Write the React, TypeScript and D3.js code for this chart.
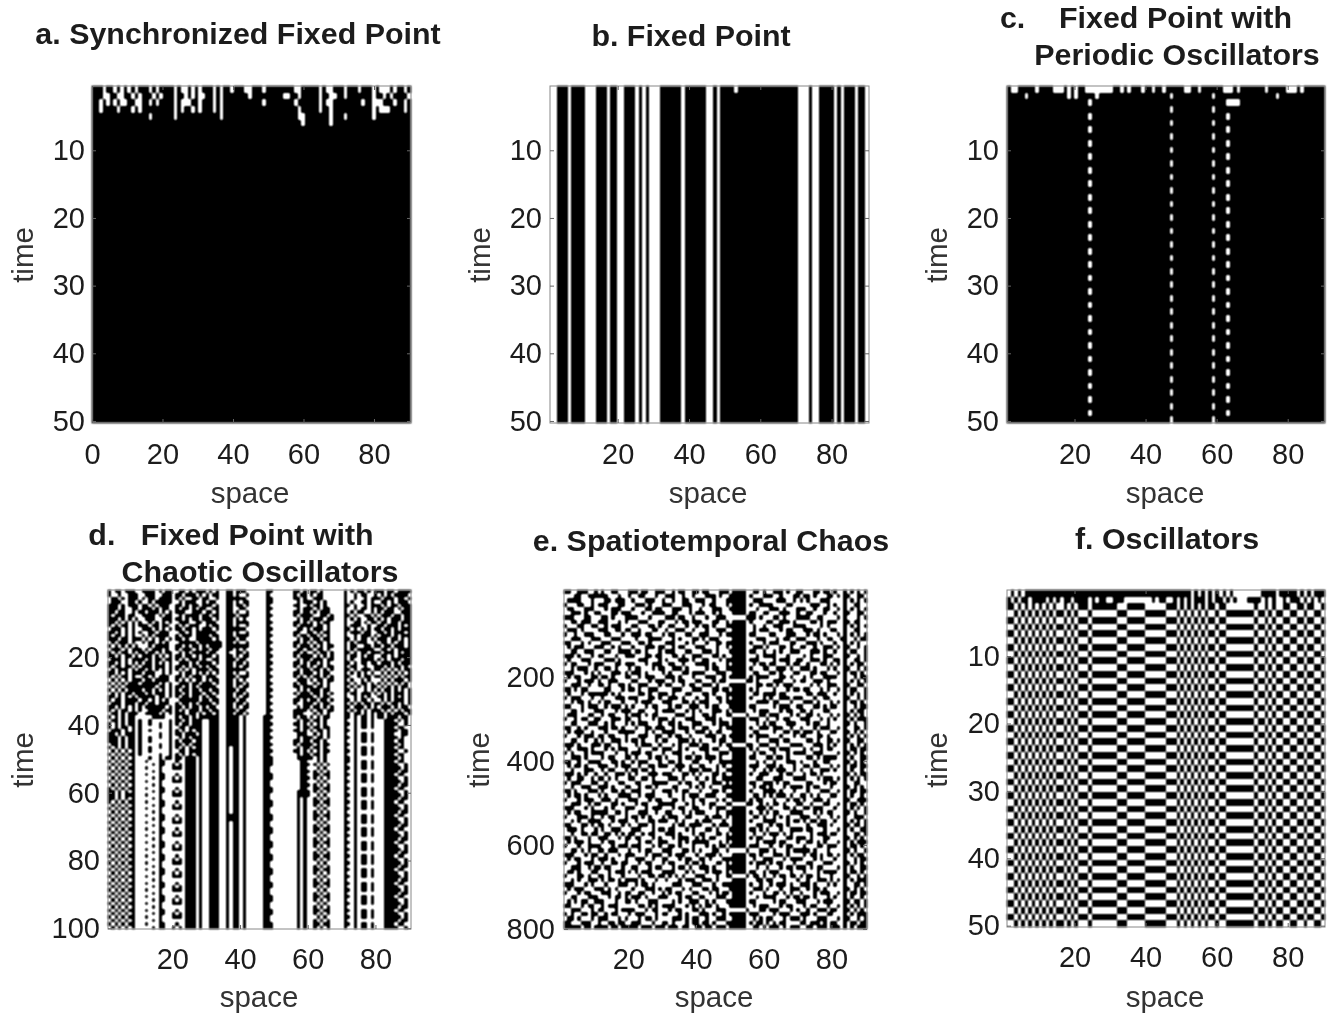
import React, { useEffect, useRef } from "react";
import * as d3 from "d3";

// '#' = black cell, '.' = white cell. Rows are grouped in tens of columns.
// All rows are read by eye off a blurred picture, so they are estimates;
// panel e is far too fine to read cell by cell and is held at 80 rows.
const blackRow = "########## ########## ########## ########## ########## ########## ########## ########## ##########";

const aTopRows = [
  "###.##.#.# .#.###.#.# ###.#..#.# .###.#.##. ###..###.# #######..# ####.#..## #.###.###. #...#.##.#",
  "###..##..# #.#.###.#. ###.##.#.# ..##.#.### ####.##### ####..##.# ####.##..# #.#######. ##.#.####.",
  "##.#.#.#.. ##..##.#.# ###.#...## .###.#.### ########.# #######.## ####.#..## ######.##. ..###.##.#",
  "##.####.## #.#.###### ###.#.##.# .###.#.### ########## ########.# ####.##.## #########. #...####.#",
  "########## ######.### ###.###### ######.### ########## ########.. #######.## #.#######. ##########",
  "########## ########## ########## ########## ########## #########. #######.## ########## ##########",
];

const bFirstRow = "..###.#### ...###.##. .###.#.#.. .######.## ####..#.## ##.####### ########## ...#..#### .#.###.##.";
const bRestRow = "..###.#### ...###.##. .###.#.#.. .######.## ####..#.## ########## ########## ...#..#### .#.###.##.";

const cTopRows = [
  "#..#####.# ###...#.#. ##........ ##.#.###.# #.##.##### ..##.##### #...#.#### ###.#####. ..#.######",
  "#####.#### #######.#. #####.#### ########## ######.### ########.# ########## ######.### ##########",
  "########## ########## ###.###### ########## ########## ########## ##....#### ########## ##########",
];
const cCycleA = "########## ########## ###.###### ########## ########## ########## ##.####### ########## ##########";
const cCycleB = "########## ########## ########## ########## ######.### ########.# ########## ########## ##########";
const cSequence = "BABABABABABABABABABABABABABABABABABABABABABABABAB";

const dRows = [
  "#.##.###.. ####.#.##. .##.#.###. #.#..##.## #......##. .....##.#. ##.#...... #.#.##.#.# ##.##.####",
  "#..#..###. .###..###. ##.###.#.# .##..##.#. .#.....#.. .....#.##. #.##...... #..#.##..# .#.#.####.",
  ".##.#.###. #.##.####. #.#..##.## ..#..##### #......##. .....##.#. .###...... #..#..#.## #.###.##.#",
  ".###..##.# ..#.#####. .#.###..#. ##...##.#. ##.....##. ......#.## #.#.#..... #.#..##.#. .##.#.###.",
  "###.#.###. ##.#.###.. ##.#.##.## #.#..##.## .#.....#.. .....##..# .##.#..... ##.#..#.## #.#.##.###",
  "###.#..##. ###.#.##.. #.##.#.##. .##..##..# #......##. ......#.## #.#.##.... #..#.##.#. ##.##.#.##",
  "##.##..#.# #.###.#.#. ###..###.# #.#..##.#. .#.....#.. .....##.## .#.###.... #.#.##..#. #.###..###",
  "#.###.##.. ####.#.##. .#.####.## .##..###.# ##.....##. .....#.### #..##.#... ##.#..##.# .###.##.##",
  "###.#.#.#. .###..###. ##.#.##.## #.#..##.#. #......#.. ......#.## .###.##... #.#.#..##. #.#.###.##",
  "##.#.#.#.# ..#.#.#.#. .###..##.# ##...##.## ##.....##. .....##.#. #.#.##.... #..##.#.## .##.##.###",
  "#.#.##.#.# ##.##.##.. #.#.###..# .##..##.#. .#.....#.. .....#.### #.##.#.... #.###..#.. ##.###.#.#",
  ".###.#.#.. ###.#.#.#. ##.##.#.## #.#..##### #......##. ......##.# .###.#.... ##.#.#.#.# #.##.#.###",
  "##.#.#.#.# ..##.###.. .##.#.#### ##...##.#. .#.....#.. .....##..# #.#.##.... #.###.##.. ##.#.###.#",
  "#.##.#.#.. #.#.####.. #.###.#### .##..##.## ##.....##. .....#.##. ##.#.#.... #..#.###.# .###.#.###",
  "###.##.### .#.#.##.#. ##.#..#### #.#..###.# #......#.. ......#.## .##.##.... ##.#.##.#. ###.##.#.#",
  ".#.###.#.. #.##.#.#.. .#####.### ####.##.#. .#.....##. .....##.#. #.##.#.... #.#.###..# .##.#.##.#",
  "#.#.#.#.#. ..#.####.. ##.#.##.#. ####.##### ##.....#.. .....#.### .#.#.##... #.##..##.# #.##.###.#",
  ".###.#.### .#.###.#.. #.###.#.## .##..##.#. #......##. ......##.# #.##.#.... #.#.#####. .##.#.####",
  "#.#.##.#.# #.##.#.##. .#.#.####. ##...#..## .#.....#.. .....##.#. .#.##.#... ##.#.##.## #.###.#.##",
  "##.#.##.#. ###.#.#.#. ##.##.#.## #.#..##.#. ##.....##. .....#.### #.#.#.#... #.##.#.##. .##.#.####",
  ".###.#.### #.#.##.##. #.#.###.#. .##..###.# #......#.. ......#.## .###.##... #.#..####. #.#.###.##",
  "##.#.#.#.# .##.#.#.#. .###.#.### #.#..##.## .#.....##. .....##.#. ##.#.#.... ##.#.##.## .###.#.###",
  "#.##.##.#. ###.###.#. ##.#.##.#. ##...##.#. ##.....#.. .....#.##. #.##.##... #.##..#..# ##.#.##.#.",
  ".#.###.#.# #.#.#.#.#. #.#.#.#### .##..##### #......##. ......#.## .##.#.#... ##.#.###.# #.#.#.#.##",
  "##.#.#.### .###..#.#. .#.##.#.#. #.#..##.#. .#.....#.. .....##.## #.#.##.... #.#.#.#.#. .#.#.#.#.#",
  "#.#.##.#.. ##.#.###.. ##.#.###.# ##...###.# ##.....##. .....#.#.# .##.#.#... ##..#.##.# #.#.#.#.##",
  ".#.#.#.### .##.####.. #.#.#.##.# .##..##.#. #......#.. ......###. #.##.##... #.#..#.#.. .#.#.###.#",
  "#.#.#.###. #####.#.#. .###.##.## #.#..##.## .#.....##. .....#.##. .#.#.#.... ##.#.##.#. #.#.#.#.#.",
  ".#.#.##### ####.##.#. ##.#.#.### ##...##.#. ##.....#.. .....##.## #.##.#.... #.#.#.#.## .#.#.#.##.",
  "#.#.#.#### .##.#.#.#. #.##.##.## .##..###.# #......##. ......#.#. ###.##.... ##.#..#.#. #.##.#.#.#",
  ".#.#.##.## #.#.###.#. ##.#.###.# #.#..##.## .#.....#.. .....#.### .##.#.#... #.##.###.# .#.#.###.#",
  "##.#.#.#.# ####.##.#. #.##.##.#. ##...##.#. ##.....##. ......#### #.#.##.... #..#.#.#.. ##.#.#.#.#",
  "#.##.####. ##.#.#.#.. .######.## .##..###.# #......#.. .....##.#. ##.##.#... ##.#.##.#. .#.#.###.#",
  ".###.###.# #.##.###.. #.##.#.### #.#..##.## .#.....##. .....#..## #.#.##.... #.#.#.##.# #.#.##.#.#",
  "##.#.#.#.# .######.#. ##.#.##.#. ##...##.#. ##.....#.. ......#.## .##.#.#... ##.###.#.# .###.#.##.",
  "#.#.##.#.# ..####.##. #.#.###.## .##..###.# #......##. .....####. #.##.##... #.#.#.#.## #.#.#.#.##",
  ".##.#.###. .####.#.#. ###.##.#.# #.#..##.## .#.....#.. .....###.. .#.#.#.... ##.##.#.#. ##.#.###.#",
  "#.#.#.##.. ...####... #.##.#.### ###..####. #.....###. .....#.##. #.#.##.... ##.#.##.#. ##.###.##.",
  ".##.#.##.# ..#.....#. ##.#.###.. ###..####. #.....##.. ......#.## .##.#..... #..#.##.#. ..###.#.#.",
  "#.#.#.##.# ..#..#..#. #.##.###.. ###..####. #.....###. .....##.#. #.#.#..... ##.#.##.#. ..####..#.",
  "#.#.##.#.# .....#..#. .##.####.. ###..####. #.....##.. ......#.## .##.##.... #..#.##.#. ..###.##..",
  ".###.#.#.# ..#.....#. #.#.#.##.. ###..####. #.....###. .....##.#. #.##.#.... ##.#...... ..####.##.",
  "##.#.###.# .....#..#. ##.###.#.. ###..####. #.....##.. ......###. .#.#.#.... #..#.##.#. ..###..##.",
  "###.#.##.# ..#..#..#. .#.#.###.. ###..####. #.....###. ......#.## #.##.#.... ##.#.##.#. ..####.#..",
  "###.#.##.# ..#.....#. #.###.##.. ###..####. #.....##.. .....##.## .##.#..... #..#.##.#. ..###.##..",
  ".##.#.##.# .....#..#. ##.#.###.. ###..####. #.....###. .....#.### #.#.##.... ##.#...... ..####.#..",
  "#.#.#.##.# ..#..#..#. #.#.#.##.. ###..#.##. #.....##.. ......#.## .##.#..... #..#.##.#. ..###.##..",
  ".#.#.#.#.# ..#.....#. .##.####.. ###..#.##. #.....###. .....##.#. #.#.##.... ##.#.##.#. ..####..#.",
  "#.#.#.##.# .....#..#. #.#.#.##.. ###..#.##. #.....##.. ......#.## .##.#..... #..#.##.#. ..###.##..",
  ".#.#.#.#.. ..#..#.##. ##.###.#.. ###..#.##. #.....###. ......#### #.#.#..... ##.#...... ..####.#..",
  "#.#.#.##.. .#...##... #..###.#.. ###..#.##. #.....###. .......##. ..#.#..... ##.#.##.#. ..###.##..",
  ".#.#.#.#.. ...#.##..# .#.###.#.. ###..#.##. #.....###. .......### .#.#.#.... #..#.##.#. ..####..#.",
  "#.#.#.##.. .#...#...# ##.###.#.. ###..#.##. #.....##.. .......##. ..#.#..... ##.#.##.#. ..#####.#.",
  ".#.#.#.#.. ...#.#.... ...###.#.. ###..#.##. #.....##.. .......### .#.#.#.... #..#...... ..####.##.",
  "#.#.#.##.. .#...##... #..###.#.. ###..#.##. #.....###. .......##. .##.##.... ##.#.##.#. ..###.##..",
  ".#.#.#.#.. ...#.##..# .#.###.#.. ###..#.##. #.....###. .......### .#.#.#.... #..#.##.#. ..####..#.",
  "#.#.#.##.. .#...#...# ##.###.#.. ###..#.##. #.....##.. .......##. ..#.#..... ##.#.##.#. ..#####.#.",
  ".#.#.#.#.. ...#.#.... ...###.#.. ###..#.##. #.....##.. .......### .#.#.#.... #..#...... ..####.##.",
  "#.#.#.##.. .#...##... #..###.#.. ###..#.##. #.....###. .......##. .##.##.... ##.#.##.#. ..###.##..",
  "##.#.#.#.. ...#.##..# .#.###.#.. ###..#.##. #.....###. ......#### .#.#.#.... #..#.##.#. ..####..#.",
  "##.#.###.. .#...#...# ##.###.#.. ###..#.##. #.....##.. ......#### ..#.#..... ##.#.##.#. ..#####.#.",
  "##.#.#.#.. ...#.#.... ...###.#.. ###..#.##. #.....##.. ......#.#. .#.#.#.... #..#...... ..####.##.",
];
// settled rows of panel d, which repeat every four time steps
const dSettled = [
  "#.#.#.##.. .#...##... #..###.#.. ###..#.##. #.....###. ......#.#. .##.##.... ##.#.##.#. ..###.##..",
  ".#.#.#.#.. ...#.##..# .#.###.#.. ###..#.##. #.....###. ......#.#. .#.#.#.... #..#.##.#. ..####..#.",
  "#.#.#.##.. .#...#...# ##.###.#.. ###..#.##. #.....##.. ......#.#. ..#.#..... ##.#.##.#. ..#####.#.",
  ".#.#.#.#.. ...#.#.... ...###.#.. ###..#.##. #.....##.. ......#.#. .#.#.#.... #..#...... ..####.##.",
  "#.#.#.##.. .#...##... #..###.#.. ###..####. #.....###. ......#.#. .##.##.... ##.#.##.#. ..###.##..",
  ".#.#.#.#.. ...#.##..# .#.###.#.. ###..####. #.....###. ......#.#. .#.#.#.... #..#.##.#. ..####..#.",
];
const dSequence = "01234523012301230123012301230123012301";

const eRows = [
  "##..###..# .#..##...# ##.##..### ..#.##..## .##...###. ####..##.# ..###.#..# #...##.##. #..#.#.#.#",
  "...##..### ###...#..# ..##...#.. ###..#..#. ..###.#..# ####.#...# ##..#...## .##.#...## .#.##..##.",
  ".####...#. ..##.###.. #...###..# ..#..##..# ##..#...## ####..###. ...###..#. #.#...###. ...#.#.#.#",
  "#...##..#. ###...##.. .###.#...# ##...###.. .#.##...#. ####.#..## ##....##.. ...###..#. #..#..##..",
  ".##...###. ..#.###... #...##.##. ..###..#.. #...###..# ####...#.. .###.#...# ##..#..##. .#.#.#.#.#",
  "..###.#..# #...##.### ...#..#### ..##...#.# ##..#.#... ####.##..# #...###..# ..##...#.. #..##..##.",
  "###...##.. .##.#...## ##...#.... ###.##..#. ..#..###.. ....###.#. ..##.#...# ###..##... .#.#...#.#",
  "..##.###.. ###...#.#. ..###...## ...#.##.## #...##..#. ####.#.... ##..###.#. ...##.#.## #..##.##..",
  "#...##..## ..#.###... ##...##.#. .##...#..# .##.#...## ####..#..# ..###...## ##....#.#. ...#.#.#.#",
  ".###.#.... ###..##.## ..#...##.. #..###..#. ..#..###.. ####..#.## #...#.##.. .###.#...# #..#..##..",
  "#..#..###. ..##...#.. ###.##...# .##...##.. ###...#.## ####.##... .##...###. ..#.##.#.. .#.#.#.#.#",
  "..###...## #...###... .#...####. ..#.#...## .#.###.... ####...### ...#.##..# ##...#..## ..##..#.##",
  "##...#.#.. .###...### ..##.#.... ###...#.#. ..#..##.## ####.#...# .###...##. ..###.#... #..#.#.#..",
  ".#.###...# ##..#.#... #...###.## ..#.##...# ##...#..#. ####..###. #...##.#.. ##..#..### .#.##..#.#",
  "..##..###. ..##..#### .##.#...#. ###...##.. .###.#...# ####.##..# ..#.#..### ...###.#.. #..#.##..#",
  "###.#...#. ##...#..## #...##.##. ..##.#..## #...##.#.. ####...#.# ###...#... .#.#...### ...##..#.#",
  ".#...###.. ..###.#... ..###...#. #...###.#. .##...#.## ####.###.. ..#.###..# #..###.#.. ##.#..##.#",
  "#.##...#.# ##...##.## #...#.###. .##..#...# ###.#...#. ####..#.## .##...#.## ..#...##.# .#.#.#.##.",
  "..#.###..# ..##.#...# .##...#.## ..###.#... ..#.##..## ####.#...# #..###.#.. ###.#...#. #..##..#.#",
  "###...#.#. #...###.#. ###.#....# .#...##.## ##...###.. ####..##.. .##.#...## ...##.##.. .#.#.##.#.",
  ".#.##...## .##.#...## ..#.###... ###.#...#. ..###..#.# ####.#.### #...##.#.. .#.#...### #..#..#.##",
  "#...#.###. #..###.... ##...#.### ..#.##...# #...#.##.. ....##.#.. ..###...#. ##..###.#. ...#.#.#.#",
  "..###..#.. ##.#..##.# ..###...#. ##...#.##. .###.#...# ####...##. ##.#.###.. ...#.#..## #..##..##.",
  "##.#.##... ..##...#.# #.#..###.. ..###...## #...##.##. ####.#.#.. ..#...#.## .##...#.#. .#.#.##..#",
  ".#...#.### ###.#.#... ..##.#..## #.#...##.. .##.#...## ####..##.# ###.##.... ..##.###.. #..#.#.#.#",
  "#.###...#. .#...###.# ##...##.#. .###.#...# ..#..##.#. ####.#...# .#..###.## #...#..##. ...##..#.#",
  "..#.##.#.. #.##...#.. .#.###...# ##...##.#. ###...#.## ####...### #.##...#.. .###.#...# .#.#.##.#.",
  "##...#.### ..#.###.#. #...#.##.. .#.##..### ..#.##...# ####.##... ..#.###..# #...##.#.# #..#..#.##",
  "..##.#...# ##...#.### ..##...#.# ###...#.#. #...###.#. ####..#.## #...#.##.. ##.#...##. ...#.#.##.",
  ".###...##. .#.##...#. ###.#.##.. ...###..#. .##.#...## ....#...## .###...#.# ..##.#...# .#.##.#.#.",
  "#..#.##..# #...###.## ..#...#.## #.#...###. ..###.#... ####.###.. #..#.##... ###...#.#. #..#.#.###",
  "..##...### ..#.#...#. #.###...#. .##.#...## #...#.###. ####...#.# .##...###. ..#.##..#. ...##.#..#",
  "##..#.#... ###.##.#.. .#..##.### ..#.###.#. .##...#.## ####.#..## #.###..#.. #...#.###. .#.#..##.#",
  ".#.###..#. ..#...#### #...#.#..# ###...#..# ##.#.##... ####..##.. ..#..##.## .###.#...# #..##.#.#.",
  "#...#.###. ##.##...#. ..###..##. .#.##..#.. ..###..#.# ####.#.### #...#...#. ##...##.#. ...#.#.#.#",
  "..##..#..# .#..###.#. ##.#...#.# #...###.#. #...#.##.. ####...#.. .###.##... ..##.#..## .#.##..##.",
  "###.#...## #.##..#... .#.###..#. ..#.#..### .##...#.## ....##..## #..#...### #...###.#. #..#.#.#.#",
  ".#..###.#. ..#.#.###. ..#...##.# ##..#.#... ###.##...# ####.#.#.. .##.###... .#.#..#.## ...#.##.##",
  "#.#...#.## ##...#..#. ###.##...# ..###...#. ..#...###. ####..#.## ..#...#.## ##..###... .#.##.#.#.",
  "..###.#... .#.##...## .#...#.##. #...#.##.# #.###.#... ####.##... ##.##.#... ..##.#.### #..#.#..##",
  "##..#..### #...##.#.. #.###...#. .##.#...## ...#..#### ####...#.# ..#...###. #...#..##. ...##.#.#.",
  ".#.##.#... ###..#.### ..#..##.## #..###.#.. ##...#.#.. ####.###.. ###.#...#. .##.##...# .#.#.##.##",
  "..#...###. .#.##...#. ##.##.#... ..#.#..### .###.#..## ####..#..# .#.###..#. #..#..###. #..#.#..#.",
  "###.#.#..# ..#..###.# .#...###.# ##...##.#. #...##.#.. ####.#..## #...#.##.. .#.##.#... ...##.#.##",
  ".#..##..#. ##.#.#...# #..##.#... .###.#...# ..#.#..### ####...##. ..###...## ##...#.### .#.#.#.#.#",
  "#.###...## ..#...##.. .##...#### #...#.##.. ##..###.#. ####.##..# ##.#.##... ..##...#.# #..#..##..",
  "..#..###.. ###.#...## ..#.##.#.. ..##...#.# .#.#...### ####..#.## .#...#.### #.#.##...# ...##.#.#.",
  "##.#...### .#..##.#.. ###...#..# ##.#.##... #...##.#.. ####.#...# ###.#...#. ..#...###. .#.#.##.##",
  ".#.##.#... #.#...#### ..#.###... .#...#.### ..###...## ####..##.# .#.###.#.. ##.#.#...# #..#.#..#.",
  "#...#.###. .###.#...# ##...#.##. ..##.#..#. ##...#.#.. ####.#.##. ..#...#.## .#..###.#. ...##..###",
  "..###..#.# #...##.#.. .#.##...## ###...#.#. .#.##...## ....##..#. #.##.#...# #..#...##. .#.#.##.#.",
  "###...#.#. ..#.#...## #...#.###. ..#.##..## ...#.###.. ####...### .#...##.#. .##.###... #..#.#.#.#",
  ".#.##...## ###..##.#. ..###..#.. ##...#.#.# ##...#..## ####.#..#. #.##...### #...#.#.## ...##.#..#",
  "#...###.#. .#.##...#. ##.#.#...# .###..##.. ..#.###.#. ####..##.# ..#.#.#... ###..#...# .#.#..###.",
  "..#.#..### #...#.###. .#...##.## #..#.#...# .###...#.. ####.#...# ###...#.## .#.##.##.. #..#.#.#.#",
  "##...##.#. ##.#...#.# ..###.#... ..#.##.### #...#.###. ####...##. .#.##.#... ..#..###.# ...##.##.#",
  ".###.#...# .#..###... ###...#.## .##...#.#. ..##.#...# ####.##.#. #...#..### #.##...#.. .#.#.#..##",
  "..#..##.## ..##.#.#.# #..#.##... ###.#...#. ##...##.#. ####..#..# .###.#.#.. ...#.###.# #..#..##.#",
  "##.#...#.. ###...#.## .##...#.#. ..#.###..# .#.##...## ####.#.##. ..#...##.# ##.#...##. ...##.#.#.",
  ".#.###.#.. .#.##...#. ..#.##..## #...#.#.## ###...#.#. ####...#.# ###.##...# ..##.#.#.. .#.#.#.###",
  "#...#..### #...#.###. ###...#.#. .##.#...#. ..#.#.##.# ####.###.. .#..#.##.. .#...##.## #..#.##.#.",
  "..##.#.#.. ##.###...# ..#.##...# ##...##.#. #...##..#. ....#...## #.#...#.## ###.#...#. ...##.#..#",
  "###...#.## ..#...#.## #...#.###. .#.###...# ..###.#... ####.##.#. ..###.#... .#.##.#.## .#.#.#.##.",
  ".#.##...#. ###.#...#. .###..#..# #...#.##.. ##.#...### ####..#..# ##...#.### #...#.#... #..#..#.##",
  "#...#.###. .#..##.##. ..#.##...# .##...#.## .#...##.#. ####.#.### .#.##...#. ..##...### ...##.#.#.",
  "..###..#.# #.##...#.. ##...#.##. ..#.##.#.. ###.#...## ####...#.. #...#.##.# ##.#.##... .#.#.#..##",
  ".##.#...## ...#.###.# .#.###...# ###...#.#. ..#.###.#. ####.##..# .###...#.. .#...#.### #..#.##.#.",
  "#...##.#.. ##.#...#.. ..#..##.## .#.#.#...# ##...#..## ....#.##.# ..#.##.##. #.##.#...# ...##..#.#",
  "..#.#..### .#.##.#.## ##.#...#.. #...#.###. .###.#.... ####...##. ##...#...# ..#..###.# .#.#.#.###",
  "###...#.#. ..#...###. .#.##.#... ..###...## #...#..### ####.#..#. .#.###.#.. ###.#...#. #..#..##.#",
  ".#.###...# ##.#.#.... #...###.#. ##...#.#.. .##.##...# ####..###. #...#..### ..#.##.#.. ...##.#.#.",
  "#...#.##.. .###..#.## ..##..#..# .#.##...## ...#.#.##. ####.#...# ..##.#.#.. #...#.###. .#.#.##.##",
  "..##...### ...#.##.#. ###.#...## #...#.##.. ##...###.. ####...#.# ###...#.## .##.#...#. #..#.#..#.",
  ".#.#.##..# ##...#..## .#...###.. ..#.#..### ..#.#...## ####.##... ..#.##...# ##...#.### ...##.##.#",
  "##...#.##. .#.###.... ..##.#.#.# ###...#.#. #.##.#...# ####..#.## #...#.##.. .#.##...#. .#.#.#.#.#",
  "..###...#. ##...#.### #...#.##.. .#.##...## .#...###.. ....#...## .###...#.# ..#..###.# #..##.#.#.",
  "#.#..##.## ..#.##...# .###...#.# #...#.#... ###.#..#.# ####.###.. ..#.###... ###.#...## ...#.#.###",
  ".##.#...#. ###...#.#. ..#.##.#.. ..###.#.## ..#..###.. ####..#.#. ##...#.### .#...###.. .#.##..#.#",
  "##...###.. #..##.##.. ###...#..# #.#...#.## .##.#...## ####.#.##. #.#.##.... ##.###.#.# #..#.##.##",
  "#####.##.# ###.##.### ##.###.### .###.##..# #.##.###.# ####..##.# .###.#.### ..##.###.# ##.#.#.###",
];

const fTopRows = [
  ".#.#.##### ########## ########## ########## ########## ##.#.#.#.# .#.#...... ..####.### ##.#.#.###",
  "#.#.##.### #.#.#.##.# ###.#.##.. ###....... .#.##..#.# .#.###.#.# #.#.#...## ##.#.#..#. ###.#.#.#.",
];
const fCycleA = "##.#.#.#.# .#.#..#.#. ###.###### #...#####. .....###.# .#.#.#.##. ##........ #..#.#..## ..##.##..#";
const fCycleB = "..#.#.#.#. #.#.##.#.# ...#...... .###.....# #####...#. #.#.#.#..# ..######## .##.#.##.. ##..#..##.";
const fSequence = "ABABABABABABABABABABABABABABABABABABABABABABABAB";

const tick20to80 = [20, 40, 60, 80];
const tick0to80 = [0, 20, 40, 60, 80];
const tick10to50 = [10, 20, 30, 40, 50];
const tick20to100 = [20, 40, 60, 80, 100];
const tick200to800 = [200, 400, 600, 800];

const parseRow = (row: string) => row.replace(/ /g, "").padEnd(90, ".").slice(0, 90);
const fromSequence = (seq: string, lookup: Record<string, string>) => seq.split("").map((k) => lookup[k]);

const panels = [
  {
    rows: [...aTopRows, ...Array(44).fill(blackRow)],
    frame: [92, 411, 86, 423], xDomain: [0, 90.5], yDomain: [0.5, 50.3],
    xTicks: tick0to80, yTicks: tick10to50, blur: "soft",
    title: [{ text: "a. Synchronized Fixed Point", x: 238, y: 44 }],
    timeX: 24, timeY: 255, spaceX: 250, spaceY: 503, yPad: 7, xPad: 20,
  },
  {
    rows: [bFirstRow, ...Array(49).fill(bRestRow)],
    frame: [550, 869, 86, 423], xDomain: [1, 90.5], yDomain: [0.5, 50.3],
    xTicks: tick20to80, yTicks: tick10to50, blur: "soft",
    title: [{ text: "b. Fixed Point", x: 691, y: 46 }],
    timeX: 481, timeY: 255, spaceX: 708, spaceY: 503, yPad: 8, xPad: 20,
  },
  {
    rows: [...cTopRows, ...fromSequence(cSequence, { A: cCycleA, B: cCycleB }).slice(0, 47)],
    frame: [1007, 1325, 86, 423], xDomain: [1, 90.5], yDomain: [0.5, 50.3],
    xTicks: tick20to80, yTicks: tick10to50, blur: "soft",
    title: [
      { text: "c.    Fixed Point with", x: 1146, y: 28 },
      { text: "Periodic Oscillators", x: 1177, y: 65 },
    ],
    timeX: 938, timeY: 255, spaceX: 1165, spaceY: 503, yPad: 8, xPad: 20,
  },
  {
    rows: [...dRows, ...fromSequence(dSequence, { "0": dSettled[0], "1": dSettled[1], "2": dSettled[2], "3": dSettled[3], "4": dSettled[4], "5": dSettled[5] })],
    frame: [108, 411, 590, 929], xDomain: [1, 90.5], yDomain: [0.2, 100.2],
    xTicks: tick20to80, yTicks: tick20to100, blur: "soft",
    title: [
      { text: "d.   Fixed Point with", x: 231, y: 545 },
      { text: "Chaotic Oscillators", x: 260, y: 582 },
    ],
    timeX: 24, timeY: 760, spaceX: 259, spaceY: 1007, yPad: 8, xPad: 19,
  },
  {
    rows: eRows,
    frame: [564, 867, 590, 929], xDomain: [1, 90.5], yDomain: [-8, 800],
    xTicks: tick20to80, yTicks: tick200to800, blur: "softer",
    title: [{ text: "e. Spatiotemporal Chaos", x: 711, y: 551 }],
    timeX: 480, timeY: 760, spaceX: 714, spaceY: 1007, yPad: 9, xPad: 19,
  },
  {
    rows: [...fTopRows, ...fromSequence(fSequence, { A: fCycleA, B: fCycleB })],
    frame: [1007, 1325, 590, 927], xDomain: [1, 90.5], yDomain: [0.2, 50.2],
    xTicks: tick20to80, yTicks: tick10to50, blur: "soft",
    title: [{ text: "f. Oscillators", x: 1167, y: 549 }],
    timeX: 938, timeY: 760, spaceX: 1165, spaceY: 1007, yPad: 7, xPad: 19,
  },
];

const font = "'Liberation Sans', Arial, sans-serif";

function Panel({ p }: { p: (typeof panels)[number] }) {
  const axesRef = useRef<SVGGElement>(null);
  const [left, right, top, bottom] = p.frame;
  const rows = p.rows.map(parseRow);
  const colBand = d3.scaleBand<number>().domain(d3.range(90)).range([left, right]);
  const rowBand = d3.scaleBand<number>().domain(d3.range(rows.length)).range([top, bottom]);

  // join neighbouring black cells of a row into one rect
  const runs: { r: number; c: number; n: number }[] = [];
  rows.forEach((row, r) => {
    let c = 0;
    while (c < row.length) {
      if (row[c] === "#") {
        let n = 1;
        while (row[c + n] === "#") n++;
        runs.push({ r, c, n });
        c += n;
      } else c++;
    }
  });

  useEffect(() => {
    const x = d3.scaleLinear().domain(p.xDomain).range([left, right]);
    const y = d3.scaleLinear().domain(p.yDomain).range([top, bottom]);
    const g = d3.select(axesRef.current);
    g.selectAll("*").remove();
    const style = (sel: any) => {
      sel.select(".domain").remove();
      sel.selectAll("line").attr("stroke", "#666");
      sel.selectAll("text").attr("fill", "#1c1c1c").attr("font-size", 29).attr("font-family", font);
    };
    g.append("g").attr("transform", `translate(0,${bottom})`)
      .call(d3.axisBottom(x).tickValues(p.xTicks).tickSize(-4).tickPadding(p.xPad) as any).call(style);
    g.append("g").attr("transform", `translate(${left},0)`)
      .call(d3.axisLeft(y).tickValues(p.yTicks).tickSize(-4).tickPadding(p.yPad) as any).call(style);
    g.append("g").attr("transform", `translate(0,${top})`)
      .call(d3.axisTop(x).tickValues(p.xTicks).tickSize(-4).tickFormat(() => "") as any).call(style);
    g.append("g").attr("transform", `translate(${right},0)`)
      .call(d3.axisRight(y).tickValues(p.yTicks).tickSize(-4).tickFormat(() => "") as any).call(style);
  }, []);

  return (
    <g>
      <g filter={`url(#${p.blur})`}>
        <rect x={left} y={top} width={right - left} height={bottom - top} fill="#fff" />
        {runs.map((d, i) => (
          <rect key={i} x={colBand(d.c)} y={rowBand(d.r)} width={colBand.step() * d.n} height={rowBand.step()} fill="#000" shapeRendering="crispEdges" />
        ))}
      </g>
      <rect x={left} y={top} width={right - left} height={bottom - top} fill="none" stroke="#888" strokeWidth={1} />
      <g filter="url(#textSoft)">
        <g ref={axesRef} />
        {p.title.map((t) => (
          <text key={t.text} x={t.x} y={t.y} textAnchor="middle" fontWeight="bold" fontSize={30.4} fontFamily={font} fill="#1c1c1c" xmlSpace="preserve">
            {t.text}
          </text>
        ))}
        <text x={p.spaceX} y={p.spaceY} textAnchor="middle" fontSize={29.5} fontFamily={font} fill="#333">space</text>
        <text transform={`translate(${p.timeX + 9},${p.timeY}) rotate(-90)`} textAnchor="middle" fontSize={29.5} fontFamily={font} fill="#333">time</text>
      </g>
    </g>
  );
}

export default function App() {
  return (
    <svg width={1336} height={1015} style={{ position: "absolute", left: 0, top: 0, background: "#fff" }}>
      <defs>
        <filter id="soft" x="-2%" y="-2%" width="104%" height="104%" colorInterpolationFilters="sRGB">
          <feGaussianBlur stdDeviation={0.85} />
          <feComponentTransfer>
            <feFuncR type="linear" slope={1.4} intercept={-0.2} />
            <feFuncG type="linear" slope={1.4} intercept={-0.2} />
            <feFuncB type="linear" slope={1.4} intercept={-0.2} />
          </feComponentTransfer>
        </filter>
        <filter id="softer" x="-2%" y="-2%" width="104%" height="104%" colorInterpolationFilters="sRGB">
          <feGaussianBlur stdDeviation={1.05} />
          <feComponentTransfer>
            <feFuncR type="linear" slope={1.5} intercept={-0.25} />
            <feFuncG type="linear" slope={1.5} intercept={-0.25} />
            <feFuncB type="linear" slope={1.5} intercept={-0.25} />
          </feComponentTransfer>
        </filter>
        <filter id="textSoft" filterUnits="userSpaceOnUse" x={0} y={0} width={1336} height={1015} colorInterpolationFilters="sRGB">
          <feGaussianBlur stdDeviation={0.4} />
        </filter>
      </defs>
      {panels.map((p, i) => (
        <Panel key={i} p={p} />
      ))}
    </svg>
  );
}
